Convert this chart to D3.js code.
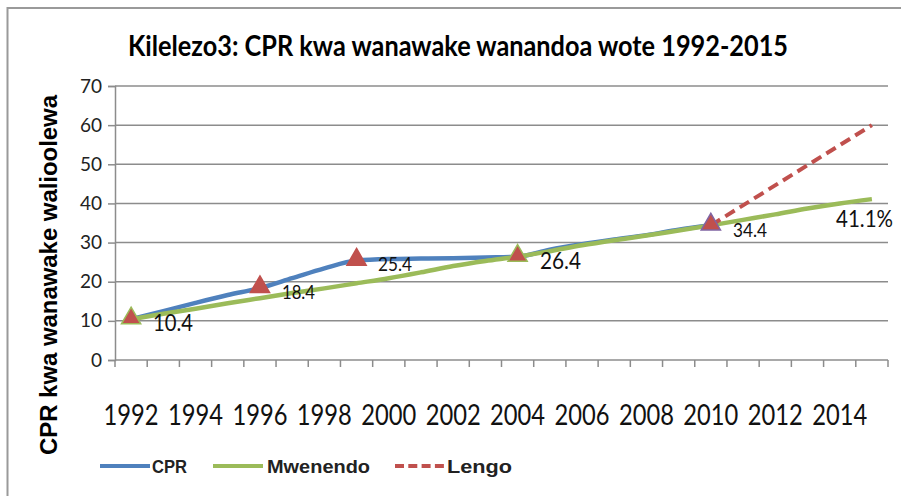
<!DOCTYPE html>
<html>
<head>
<meta charset="utf-8">
<script src="https://cdn.jsdelivr.net/npm/d3@7"></script>
<style>
  body { margin: 0; background: #fff; }
  svg { display: block; }
</style>
</head>
<body>
<div id="chart"></div>
<script>
// data
const years = d3.range(1992, 2016);
const cprYears = d3.range(1992, 2011);
const cprValues = [10.4, 12.5, 14.6, 16.6, 18.4, 20.9, 23.4, 25.4, 25.8, 25.9, 26.0, 26.2, 26.4, 28.2, 29.6, 30.8, 31.9, 33.3, 34.4];
const mwenendoValues = [10.4, 11.8, 13.1, 14.5, 15.8, 17.1, 18.3, 19.6, 20.9, 22.4, 24.0, 25.3, 26.4, 27.8, 29.3, 30.6, 31.8, 33.1, 34.4, 35.8, 37.2, 38.7, 40.0, 41.1];
const lengoYears = [2010, 2015];
const lengoValues = [34.4, 60];
const markerYears = [1992, 1996, 1999, 2004, 2010];
const markerValues = [10.4, 18.4, 25.4, 26.4, 34.4];
const markerLabels = ["10.4", "18.4", "25.4", "26.4", "34.4"];
const endLabel = "41.1%";
const yTicks = [0, 10, 20, 30, 40, 50, 60, 70];
const xLabelYears = d3.range(1992, 2015, 2);
const seriesNames = ["CPR", "Mwenendo", "Lengo"];

const W = 901, H = 496;
const blue = "#4F81BD", green = "#9BBB59", red = "#C0504D", purple = "#8064A2";
const grid = "#8c8c8c";
const calib = "Lato, 'Open Sans', sans-serif";

const svg = d3.select("#chart").append("svg")
  .attr("width", W).attr("height", H);

// outer chart border
svg.append("rect")
  .attr("x", 7.5).attr("y", 8).attr("width", 920).attr("height", 520)
  .attr("fill", "#fff").attr("stroke", "#9a9a9a").attr("stroke-width", 2);

const x = d3.scaleBand().domain(years).range([115, 888]);
const cx = d => x(d) + x.bandwidth() / 2;
const y = d3.scaleLinear().domain([0, 70]).range([360, 86]);

// title
svg.append("text")
  .attr("x", 458).attr("y", 56)
  .attr("text-anchor", "middle")
  .attr("font-family", calib).attr("font-weight", "bold").attr("font-size", 28)
  .attr("textLength", 660).attr("lengthAdjust", "spacingAndGlyphs")
  .text("Kilelezo3: CPR kwa wanawake wanandoa wote 1992-2015");

// gridlines
svg.append("g").selectAll("line")
  .data(yTicks.slice(1))
  .join("line")
  .attr("x1", 115).attr("x2", 888)
  .attr("y1", d => y(d)).attr("y2", d => y(d))
  .attr("stroke", grid).attr("stroke-width", 1.5);

// y axis
const yAxis = svg.append("g")
  .attr("transform", "translate(115,0)")
  .call(d3.axisLeft(y).tickValues(yTicks).tickSize(7).tickPadding(6));
yAxis.select(".domain").attr("stroke", grid).attr("stroke-width", 1.5);
yAxis.selectAll(".tick line").attr("stroke", grid).attr("stroke-width", 1.5);
yAxis.selectAll(".tick text")
  .attr("font-family", calib).attr("font-size", 19).attr("fill", "#222");

// x axis: ticks between categories
const xAxis = svg.append("g");
xAxis.append("line")
  .attr("x1", 115).attr("x2", 888).attr("y1", y(0)).attr("y2", y(0))
  .attr("stroke", grid).attr("stroke-width", 1.5);
xAxis.selectAll(".xt")
  .data(years.concat([null]))
  .join("line")
  .attr("class", "xt")
  .attr("x1", d => d === null ? 888 : x(d)).attr("x2", d => d === null ? 888 : x(d))
  .attr("y1", y(0)).attr("y2", y(0) + 7)
  .attr("stroke", grid).attr("stroke-width", 1.5);
xAxis.selectAll(".xl")
  .data(xLabelYears)
  .join("text")
  .attr("class", "xl")
  .attr("x", d => cx(d)).attr("y", 425)
  .attr("text-anchor", "middle")
  .attr("font-family", calib).attr("font-size", 28).attr("fill", "#111")
  .attr("textLength", 55).attr("lengthAdjust", "spacingAndGlyphs")
  .text(d => d);

// y axis title
svg.append("text")
  .attr("transform", "translate(57,275) rotate(-90)")
  .attr("text-anchor", "middle")
  .attr("font-family", "'Liberation Sans', Arial, sans-serif")
  .attr("font-weight", "bold").attr("font-size", 23)
  .attr("textLength", 360).attr("lengthAdjust", "spacingAndGlyphs")
  .text("CPR kwa wanawake walioolewa");

// lines
const line = d3.line().x(d => cx(d[0])).y(d => y(d[1]));

svg.append("path")
  .datum(cprYears.map((yr, i) => [yr, cprValues[i]]))
  .attr("fill", "none").attr("stroke", blue).attr("stroke-width", 4.5)
  .attr("stroke-linejoin", "round")
  .attr("d", line.curve(d3.curveMonotoneX));

svg.append("path")
  .datum(years.map((yr, i) => [yr, mwenendoValues[i]]))
  .attr("fill", "none").attr("stroke", green).attr("stroke-width", 4.5)
  .attr("stroke-linejoin", "round")
  .attr("d", line.curve(d3.curveMonotoneX));

svg.append("path")
  .datum(lengoYears.map((yr, i) => [yr, lengoValues[i]]))
  .attr("fill", "none").attr("stroke", red).attr("stroke-width", 4)
  .attr("stroke-dasharray", "11,6")
  .attr("d", line.curve(d3.curveLinear));

// triangle markers
const markerStroke = [green, red, red, green, purple];
svg.append("g").selectAll("path")
  .data(markerYears.map((yr, i) => ({ yr, v: markerValues[i], s: markerStroke[i] })))
  .join("path")
  .attr("transform", d => `translate(${cx(d.yr)},${y(d.v) - 1})`)
  .attr("d", d3.symbol(d3.symbolTriangle, 160))
  .attr("fill", red).attr("stroke", d => d.s).attr("stroke-width", 1.5);

// data labels
const labelPos = [
  { x: 153, y: 331, fs: 23, w: 40 },
  { x: 282, y: 299, fs: 19, w: 33 },
  { x: 378, y: 271, fs: 19, w: 34 },
  { x: 540, y: 269, fs: 23, w: 41 },
  { x: 733, y: 237, fs: 19, w: 34 },
  { x: 836, y: 227, fs: 23, w: 57 }
];
svg.append("g").selectAll("text")
  .data(markerLabels.concat([endLabel]))
  .join("text")
  .attr("x", (d, i) => labelPos[i].x).attr("y", (d, i) => labelPos[i].y)
  .attr("font-family", calib).attr("font-size", (d, i) => labelPos[i].fs)
  .attr("textLength", (d, i) => labelPos[i].w).attr("lengthAdjust", "spacingAndGlyphs")
  .attr("fill", "#111")
  .text(d => d);

// legend
const legend = [
  { x1: 100, x2: 150, tx: 152, tw: 35, color: blue, dash: null },
  { x1: 213, x2: 263, tx: 267, tw: 103, color: green, dash: null },
  { x1: 395, x2: 444, tx: 447, tw: 65, color: red, dash: "9,4.3" }
];
const lg = svg.append("g").selectAll("g")
  .data(seriesNames)
  .join("g");
lg.append("line")
  .attr("x1", (d, i) => legend[i].x1).attr("x2", (d, i) => legend[i].x2)
  .attr("y1", 466).attr("y2", 466)
  .attr("stroke", (d, i) => legend[i].color).attr("stroke-width", 4)
  .attr("stroke-dasharray", (d, i) => legend[i].dash);
lg.append("text")
  .attr("x", (d, i) => legend[i].tx).attr("y", 473)
  .attr("font-family", "'Liberation Sans', Arial, sans-serif")
  .attr("font-weight", "bold").attr("font-size", 18).attr("fill", "#222")
  .attr("textLength", (d, i) => legend[i].tw).attr("lengthAdjust", "spacingAndGlyphs")
  .text(d => d);
</script>
</body>
</html>
